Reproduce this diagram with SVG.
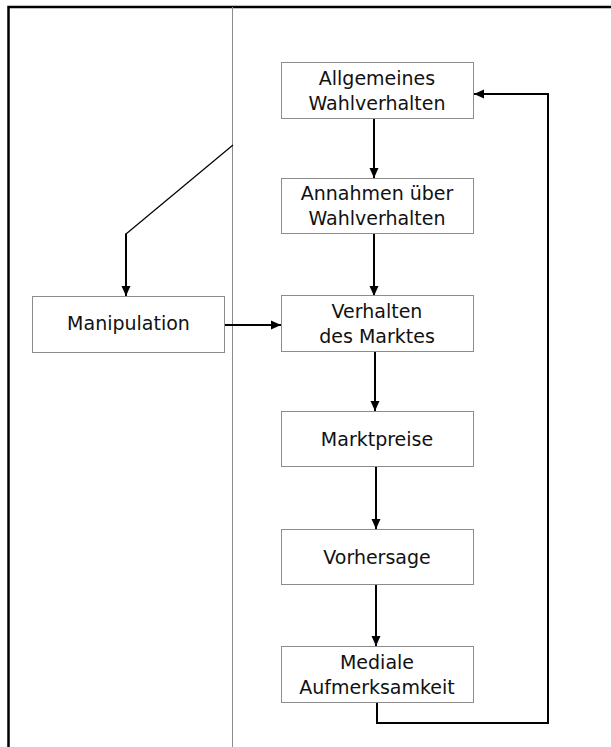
<svg xmlns="http://www.w3.org/2000/svg" width="611" height="747" viewBox="0 0 611 747">
<style>
.box{fill:#fff;stroke:#8c8c8c;stroke-width:1}
.t{font-family:"DejaVu Sans","Liberation Sans",sans-serif;font-size:19px;fill:#111;text-anchor:middle}
.c{fill:none;stroke:#000;stroke-width:2}
.thin{fill:none;stroke:#000;stroke-width:1.2}
</style>
<defs>
<marker id="ah" markerUnits="userSpaceOnUse" markerWidth="10" markerHeight="10" viewBox="0 0 10 10" refX="10" refY="5" orient="auto">
<path d="M0,0.5 L10,5 L0,9.5 Z" fill="#000"/>
</marker>
</defs>
<rect x="0" y="0" width="611" height="747" fill="#fff"/>
<g id="frame">
<path d="M8.5,747 V7 H611" fill="none" stroke="#000" stroke-width="2.5"/>
<line x1="232.5" y1="7" x2="232.5" y2="747" stroke="#8c8c8c" stroke-width="1"/>
</g>
<g id="connectors">
<line class="c" x1="374" y1="118" x2="374" y2="178" marker-end="url(#ah)"/>
<line class="c" x1="374" y1="233" x2="374" y2="296" marker-end="url(#ah)"/>
<line class="c" x1="375" y1="352" x2="375" y2="411" marker-end="url(#ah)"/>
<line class="c" x1="376" y1="467" x2="376" y2="529" marker-end="url(#ah)"/>
<line class="c" x1="376" y1="585" x2="376" y2="646" marker-end="url(#ah)"/>
<line class="c" x1="225" y1="325" x2="281" y2="325" marker-end="url(#ah)"/>
<path class="c" d="M377,702 V723 H548 V94 H474" marker-end="url(#ah)"/>
<path class="thin" d="M233,145 L126,234"/>
<path class="c" d="M126,233.5 V296" marker-end="url(#ah)"/>
</g>
<g id="n1">
<rect class="box" x="281.5" y="62.5" width="192" height="56"/>
<text class="t" x="377" y="85">Allgemeines</text>
<text class="t" x="377" y="110">Wahlverhalten</text>
</g>
<g id="n2">
<rect class="box" x="281.5" y="178.5" width="192" height="55"/>
<text class="t" x="377" y="200">Annahmen über</text>
<text class="t" x="377" y="225">Wahlverhalten</text>
</g>
<g id="n3">
<rect class="box" x="281.5" y="295.5" width="192" height="56"/>
<text class="t" x="377" y="317.5">Verhalten</text>
<text class="t" x="377" y="343">des Marktes</text>
</g>
<g id="n4">
<rect class="box" x="281.5" y="411.5" width="192" height="55"/>
<text class="t" x="377" y="446">Marktpreise</text>
</g>
<g id="n5">
<rect class="box" x="281.5" y="529.5" width="192" height="55"/>
<text class="t" x="377" y="564">Vorhersage</text>
</g>
<g id="n6">
<rect class="box" x="281.5" y="646.5" width="192" height="56"/>
<text class="t" x="377" y="668.5">Mediale</text>
<text class="t" x="377" y="694">Aufmerksamkeit</text>
</g>
<g id="manip">
<rect class="box" x="32.5" y="296.5" width="192" height="56"/>
<text class="t" x="128.5" y="330">Manipulation</text>
</g>
</svg>
